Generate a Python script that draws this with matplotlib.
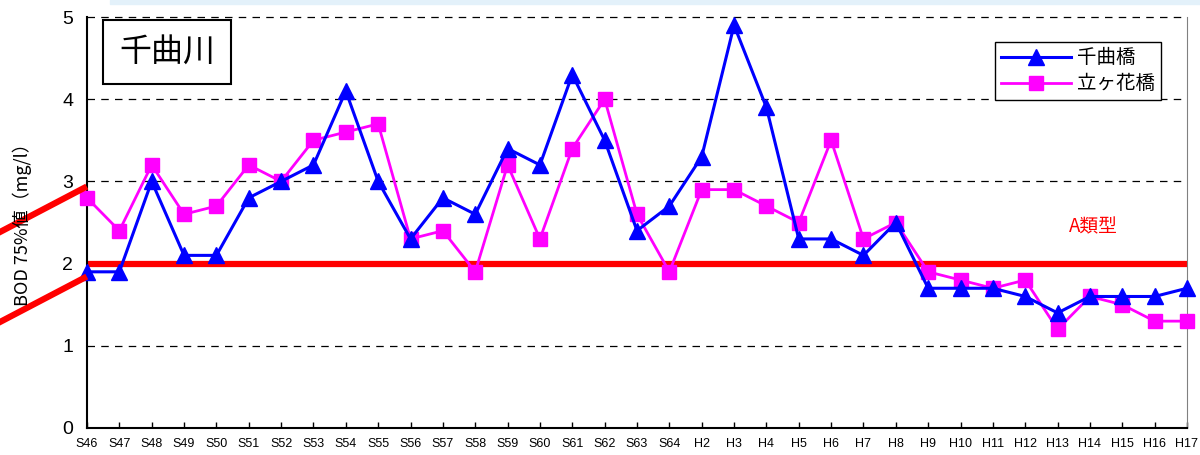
import numpy as np
import matplotlib.pyplot as plt
from matplotlib.lines import Line2D
from matplotlib.patches import Rectangle

plt.rcParams['font.family'] = ['Noto Sans CJK JP', 'DejaVu Sans']

# 年度 (昭和46年〜平成17年)
years = ['S46', 'S47', 'S48', 'S49', 'S50', 'S51', 'S52', 'S53', 'S54', 'S55',
         'S56', 'S57', 'S58', 'S59', 'S60', 'S61', 'S62', 'S63', 'S64',
         'H2', 'H3', 'H4', 'H5', 'H6', 'H7', 'H8', 'H9', 'H10', 'H11', 'H12',
         'H13', 'H14', 'H15', 'H16', 'H17']

# BOD 75%値 (mg/l)
chikumabashi = [1.9, 1.9, 3.0, 2.1, 2.1, 2.8, 3.0, 3.2, 4.1, 3.0,
                2.3, 2.8, 2.6, 3.4, 3.2, 4.3, 3.5, 2.4, 2.7,
                3.3, 4.9, 3.9, 2.3, 2.3, 2.1, 2.5, 1.7, 1.7, 1.7, 1.6,
                1.4, 1.6, 1.6, 1.6, 1.7]
tategahanabashi = [2.8, 2.4, 3.2, 2.6, 2.7, 3.2, 3.0, 3.5, 3.6, 3.7,
                   2.3, 2.4, 1.9, 3.2, 2.3, 3.4, 4.0, 2.6, 1.9,
                   2.9, 2.9, 2.7, 2.5, 3.5, 2.3, 2.5, 1.9, 1.8, 1.7, 1.8,
                   1.2, 1.6, 1.5, 1.3, 1.3]

standard_a = 2.0  # A類型 環境基準

x = np.arange(len(years))

fig = plt.figure(figsize=(12, 4.55), dpi=100)
ax = fig.add_axes([87 / 1200, 1 - 428 / 455, 1100 / 1200, 411 / 455])

# 上部の帯
fig.patches.append(Rectangle((110 / 1200, 1 - 4 / 455), 1 - 110 / 1200, 4 / 455,
                             transform=fig.transFigure, color='#e3f1fa', zorder=0))

for yv in [1, 3, 4, 5]:
    ax.axhline(yv, color='black', lw=0.9, ls=(0, (6, 5)), zorder=1, clip_on=False)

ax.axhline(standard_a, color='#ff0000', lw=4.5, zorder=2)
ax.text(31.1, 2.45, 'A類型', color='#ff0000', fontsize=13.5, ha='center', va='center')

ax.plot(x, chikumabashi, color='#0000ff', lw=2.2, marker='^', ms=11,
        label='千曲橋', zorder=4, clip_on=False)
ax.plot(x, tategahanabashi, color='#ff00ff', lw=2.0, marker='s', ms=10.5,
        label='立ヶ花橋', zorder=3, clip_on=False)

ax.set_xlim(0, len(years) - 1)
ax.set_ylim(0, 5)
ax.set_yticks([0, 1, 2, 3, 4, 5])
ax.set_xticks(x)
ax.set_xticklabels(years, fontsize=9, family=['Liberation Sans', 'DejaVu Sans'])
ax.tick_params(axis='y', length=0, labelsize=14, pad=10)
ax.tick_params(axis='x', direction='in', length=4, width=1, pad=7)
for lbl in ax.get_yticklabels():
    lbl.set_family(['Liberation Sans', 'DejaVu Sans'])

ax.spines['top'].set_visible(False)
ax.spines['right'].set_color('#808080')
ax.spines['left'].set_linewidth(1.5)
ax.spines['bottom'].set_linewidth(1.5)

fig.text(22 / 1200, 1 - 220 / 455, 'BOD 75%値（mg/l）', rotation=90,
         ha='center', va='center', fontsize=13)

# 河川名
ax.text(0.0727, 0.915, '千曲川', transform=ax.transAxes,
        fontsize=23, ha='center', va='center',
        bbox=dict(boxstyle='square,pad=0.5', fc='white', ec='black', lw=1.5))

leg = ax.legend(loc='upper right', bbox_to_anchor=(0.976, 0.94), fontsize=14,
                frameon=True, fancybox=False, edgecolor='black', framealpha=1,
                handlelength=3.6, borderpad=0.3, labelspacing=0.25, handletextpad=0.3,
                borderaxespad=0)
leg.get_frame().set_linewidth(1.0)

# 左側の赤い斜線
for y0, y1 in [(322, 278), (232, 188)]:
    fig.add_artist(Line2D([0, 84 / 1200], [1 - y0 / 455, 1 - y1 / 455],
                          transform=fig.transFigure, color='#ff0000', lw=4.5))

fig.savefig('out.png', dpi=100)
